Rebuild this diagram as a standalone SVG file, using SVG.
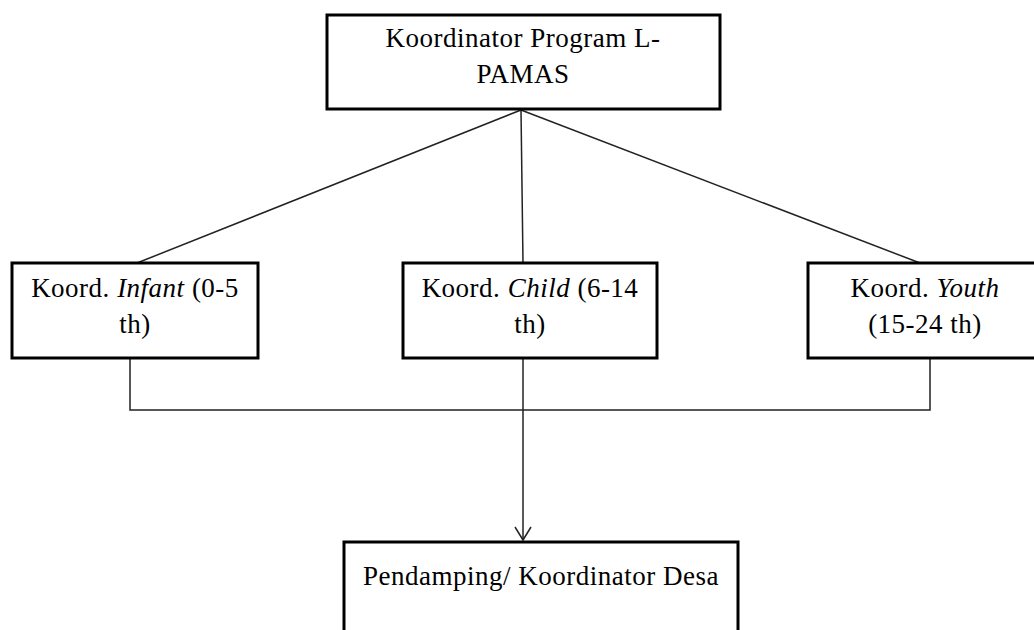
<svg xmlns="http://www.w3.org/2000/svg" width="1034" height="630" viewBox="0 0 1034 630">
<style>
.box{fill:#fff;stroke:#000;stroke-width:3}
.lbl{font-family:"Liberation Serif","Times New Roman",serif;font-size:27px;letter-spacing:0.5px;fill:#000;text-anchor:middle}
.it{font-style:italic}
.con{fill:none;stroke:#222;stroke-width:1.5}
</style>
<defs>
<marker id="arr" markerWidth="20" markerHeight="20" refX="10" refY="14" markerUnits="userSpaceOnUse" orient="0">
<path d="M2,1 L10,14 L18,1" fill="none" stroke="#222" stroke-width="1.5"/>
</marker>
</defs>
<rect width="1034" height="630" fill="#fff"/>
<g id="connectors">
<line class="con" x1="521" y1="110" x2="137" y2="263"/>
<line class="con" x1="521" y1="110" x2="523" y2="263"/>
<line class="con" x1="521" y1="110" x2="920" y2="263"/>
<polyline class="con" points="130,358 130,410 930,410 930,358"/>
<line class="con" x1="523" y1="358" x2="523" y2="540" marker-end="url(#arr)"/>
</g>
<g id="top">
<rect class="box" x="327" y="15" width="393" height="94"/>
<text class="lbl" x="523" y="47">Koordinator Program L-</text>
<text class="lbl" x="523" y="83">PAMAS</text>
</g>
<g id="infant">
<rect class="box" x="12" y="263" width="246" height="95"/>
<text class="lbl" x="135" y="297">Koord. <tspan class="it">Infant</tspan> (0-5</text>
<text class="lbl" x="135" y="333">th)</text>
</g>
<g id="child">
<rect class="box" x="403" y="263" width="254" height="95"/>
<text class="lbl" x="530" y="297">Koord. <tspan class="it">Child</tspan> (6-14</text>
<text class="lbl" x="530" y="333">th)</text>
</g>
<g id="youth">
<rect class="box" x="808" y="263" width="240" height="95"/>
<text class="lbl" x="925" y="297">Koord. <tspan class="it">Youth</tspan></text>
<text class="lbl" x="925" y="333">(15-24 th)</text>
</g>
<g id="desa">
<rect class="box" x="344" y="542" width="394" height="100"/>
<text class="lbl" x="541" y="585">Pendamping/ Koordinator Desa</text>
</g>
</svg>
